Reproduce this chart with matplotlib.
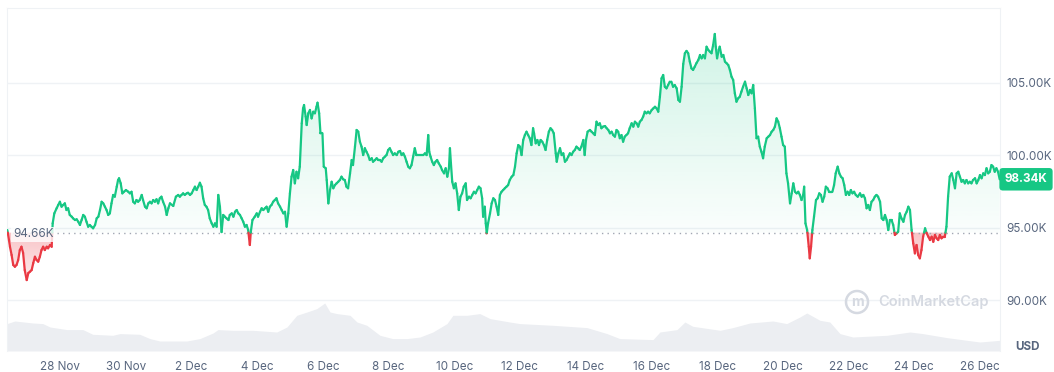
import numpy as np
import matplotlib
matplotlib.use('Agg')
import matplotlib.pyplot as plt
import matplotlib.colors as mcolors
from matplotlib.collections import LineCollection
from matplotlib.patches import Polygon, Ellipse

plt.rcParams['font.family'] = ['Inter', 'DejaVu Sans']

# days since 28 Nov 00:00, price in thousand USD
day = [
    -1.60, -1.55, -1.52, -1.47, -1.42, -1.37, -1.32, -1.27, -1.22, -1.17,
    -1.12, -1.07, -1.01, -0.96, -0.91, -0.86, -0.81, -0.76, -0.71, -0.66,
    -0.61, -0.56, -0.51, -0.46, -0.40, -0.36, -0.30, -0.25, -0.22, -0.17,
    -0.10, -0.05, 0.00, 0.05, 0.10, 0.15, 0.20, 0.25, 0.30, 0.36,
    0.40, 0.46, 0.51, 0.56, 0.61, 0.66, 0.71, 0.76, 0.81, 0.86,
    0.91, 0.96, 1.01, 1.07, 1.12, 1.17, 1.22, 1.27, 1.32, 1.37,
    1.42, 1.47, 1.52, 1.57, 1.62, 1.67, 1.73, 1.77, 1.80, 1.85,
    1.90, 1.95, 2.01, 2.08, 2.13, 2.18, 2.23, 2.28, 2.33, 2.38,
    2.43, 2.49, 2.53, 2.59, 2.64, 2.69, 2.74, 2.79, 2.84, 2.89,
    2.94, 2.99, 3.04, 3.09, 3.14, 3.20, 3.25, 3.30, 3.35, 3.45,
    3.53, 3.60, 3.65, 3.70, 3.75, 3.80, 3.86, 3.90, 3.96, 4.01,
    4.06, 4.11, 4.16, 4.21, 4.26, 4.31, 4.36, 4.41, 4.46, 4.51,
    4.56, 4.62, 4.67, 4.72, 4.77, 4.82, 4.87, 4.92, 4.97, 5.02,
    5.07, 5.13, 5.17, 5.23, 5.28, 5.33, 5.38, 5.43, 5.48, 5.53,
    5.58, 5.63, 5.68, 5.73, 5.78, 5.81, 5.86, 5.93, 5.99, 6.03,
    6.09, 6.14, 6.19, 6.24, 6.29, 6.34, 6.39, 6.44, 6.49, 6.54,
    6.59, 6.64, 6.70, 6.75, 6.80, 6.85, 6.90, 6.95, 7.00, 7.05,
    7.10, 7.15, 7.20, 7.25, 7.30, 7.36, 7.40, 7.43, 7.48, 7.51,
    7.56, 7.61, 7.66, 7.71, 7.76, 7.81, 7.84, 7.89, 7.93, 7.99,
    8.03, 8.09, 8.12, 8.17, 8.22, 8.27, 8.32, 8.37, 8.42, 8.47,
    8.52, 8.57, 8.62, 8.67, 8.72, 8.77, 8.83, 8.88, 8.92, 8.98,
    9.03, 9.08, 9.13, 9.18, 9.23, 9.28, 9.33, 9.38, 9.43, 9.49,
    9.53, 9.59, 9.64, 9.69, 9.74, 9.79, 9.84, 9.89, 9.94, 9.99,
    10.04, 10.09, 10.14, 10.19, 10.25, 10.30, 10.35, 10.40, 10.45, 10.50,
    10.55, 10.60, 10.65, 10.70, 10.75, 10.80, 10.85, 10.90, 10.96, 11.01,
    11.06, 11.11, 11.16, 11.21, 11.24, 11.28, 11.33, 11.38, 11.43, 11.48,
    11.53, 11.59, 11.63, 11.69, 11.74, 11.79, 11.84, 11.87, 11.90, 11.94,
    11.99, 12.04, 12.09, 12.14, 12.19, 12.24, 12.29, 12.35, 12.39, 12.45,
    12.50, 12.55, 12.60, 12.65, 12.70, 12.75, 12.80, 12.85, 12.88, 12.93,
    12.96, 12.99, 13.03, 13.09, 13.14, 13.19, 13.24, 13.29, 13.34, 13.39,
    13.44, 13.49, 13.54, 13.59, 13.64, 13.69, 13.75, 13.80, 13.85, 13.90,
    13.95, 14.00, 14.05, 14.10, 14.15, 14.20, 14.25, 14.30, 14.35, 14.40,
    14.43, 14.48, 14.53, 14.58, 14.63, 14.68, 14.73, 14.78, 14.83, 14.88,
    14.93, 14.98, 15.03, 15.09, 15.12, 15.17, 15.22, 15.27, 15.32, 15.37,
    15.42, 15.47, 15.52, 15.57, 15.62, 15.67, 15.72, 15.77, 15.82, 15.87,
    15.93, 15.97, 16.01, 16.06, 16.13, 16.18, 16.23, 16.28, 16.33, 16.38,
    16.43, 16.48, 16.53, 16.59, 16.64, 16.69, 16.74, 16.79, 16.84, 16.89,
    16.94, 16.99, 17.04, 17.09, 17.14, 17.19, 17.24, 17.29, 17.34, 17.40,
    17.45, 17.50, 17.55, 17.60, 17.65, 17.70, 17.75, 17.80, 17.85, 17.90,
    17.95, 18.01, 18.06, 18.11, 18.16, 18.21, 18.26, 18.31, 18.36, 18.41,
    18.46, 18.51, 18.56, 18.61, 18.66, 18.71, 18.77, 18.82, 18.87, 18.92,
    18.97, 19.02, 19.07, 19.12, 19.17, 19.22, 19.27, 19.32, 19.37, 19.43,
    19.48, 19.53, 19.58, 19.63, 19.68, 19.73, 19.78, 19.83, 19.88, 19.93,
    19.96, 20.00, 20.05, 20.08, 20.14, 20.19, 20.24, 20.29, 20.34, 20.39,
    20.44, 20.49, 20.54, 20.59, 20.64, 20.69, 20.74, 20.79, 20.85, 20.90,
    20.95, 21.00, 21.05, 21.10, 21.15, 21.20, 21.25, 21.30, 21.35, 21.40,
    21.45, 21.51, 21.56, 21.61, 21.66, 21.71, 21.76, 21.81, 21.86, 21.91,
    21.96, 22.01, 22.06, 22.11, 22.16, 22.22, 22.27, 22.32, 22.37, 22.42,
    22.47, 22.52, 22.57, 22.62, 22.65, 22.69, 22.74, 22.79, 22.82, 22.86,
    22.90, 22.95, 23.01, 23.06, 23.11, 23.16, 23.21, 23.26, 23.31, 23.36,
    23.41, 23.46, 23.51, 23.56, 23.61, 23.67, 23.72, 23.77, 23.82, 23.87,
    23.92, 23.97, 24.02, 24.07, 24.12, 24.17, 24.22, 24.28, 24.35, 24.40,
    24.45, 24.50, 24.55, 24.60, 24.65, 24.70, 24.75, 24.80, 24.85, 24.90,
    24.96, 25.01, 25.06, 25.11, 25.16, 25.21, 25.26, 25.31, 25.36, 25.41,
    25.46, 25.51, 25.56, 25.61, 25.67, 25.72, 25.77, 25.82, 25.87, 25.92,
    25.97, 26.02, 26.07, 26.12, 26.17, 26.22, 26.27, 26.33, 26.38, 26.43,
    26.48, 26.53, 26.58, 26.63, 26.68, 26.73, 26.78, 26.83, 26.88, 26.93,
    26.98, 27.03, 27.08, 27.14, 27.19, 27.24, 27.29, 27.34, 27.39, 27.44,
    27.49, 27.54, 27.59, 27.64, 27.69, 27.74, 27.79, 27.85, 27.90, 27.95,
    28.00, 28.05, 28.10, 28.15, 28.20, 28.25, 28.30, 28.35, 28.40, 28.45,
    28.50, 28.55, 28.60,
]
price = [
    94.84, 94.15, 93.69, 93.12, 92.43, 92.31, 92.43, 92.77, 93.46, 93.69,
    93.26, 92.08, 91.39, 91.88, 91.97, 92.08, 92.57, 93.00, 92.77, 92.66,
    93.00, 93.46, 93.69, 93.46, 93.69, 93.58, 93.81, 93.69, 95.30, 95.99,
    96.34, 96.57, 96.79, 96.45, 96.57, 96.68, 96.22, 96.34, 95.88, 95.76,
    95.65, 95.53, 95.58, 95.41, 95.19, 95.53, 95.88, 95.76, 95.41, 95.07,
    95.19, 95.07, 94.96, 95.19, 95.65, 95.76, 96.22, 96.79, 96.68, 96.45,
    96.22, 95.88, 95.99, 96.68, 97.26, 97.14, 97.83, 98.29, 98.41, 98.06,
    97.37, 97.48, 97.60, 97.48, 97.37, 97.48, 96.79, 96.68, 96.91, 96.79,
    96.91, 97.26, 96.91, 96.45, 96.34, 96.68, 96.79, 96.68, 96.91, 96.79,
    96.96, 96.68, 97.03, 97.14, 96.79, 96.45, 95.88, 96.34, 96.68, 96.50,
    97.14, 97.26, 97.14, 97.26, 97.37, 97.26, 97.37, 97.41, 97.26, 97.37,
    97.60, 97.83, 97.60, 97.83, 98.10, 97.83, 97.03, 96.57, 96.45, 96.22,
    95.65, 95.30, 95.07, 95.30, 95.07, 97.26, 96.45, 94.70, 95.88, 95.76,
    95.65, 95.53, 95.88, 95.99, 95.76, 96.10, 96.22, 95.99, 95.88, 95.65,
    95.41, 95.07, 95.19, 94.84, 93.81, 94.72, 95.53, 95.76, 95.99, 95.76,
    96.10, 96.34, 96.22, 96.34, 96.45, 96.10, 96.45, 96.57, 96.79, 96.91,
    97.03, 96.68, 96.45, 96.22, 95.99, 96.10, 95.07, 95.99, 97.37, 98.52,
    98.98, 98.06, 98.86, 98.41, 99.21, 102.20, 103.23, 103.46, 102.66, 102.08,
    102.89, 103.12, 102.54, 103.00, 102.89, 103.34, 103.62, 102.89, 101.51, 101.51,
    99.21, 99.10, 98.29, 96.68, 97.60, 98.17, 97.72, 97.94, 98.06, 98.17,
    98.29, 98.52, 98.34, 98.29, 97.83, 97.72, 98.75, 99.67, 99.32, 100.59,
    101.74, 101.62, 100.93, 100.59, 100.01, 100.48, 100.24, 100.01, 99.67, 99.79,
    99.55, 99.67, 99.79, 99.67, 99.67, 99.55, 99.79, 99.90, 100.01, 100.36,
    100.48, 100.24, 100.01, 100.13, 100.01, 100.24, 100.29, 100.01, 100.13, 99.90,
    99.55, 99.21, 99.10, 99.32, 99.90, 100.48, 100.01, 100.01, 100.01, 100.01,
    100.01, 100.13, 100.01, 101.39, 100.24, 99.90, 99.55, 99.32, 99.55, 99.67,
    99.44, 99.21, 98.98, 98.75, 99.10, 98.52, 99.10, 100.48, 99.44, 98.17,
    97.72, 98.06, 97.37, 96.22, 97.14, 97.37, 97.83, 98.06, 96.91, 97.14,
    97.03, 97.26, 97.48, 97.37, 97.60, 97.83, 97.72, 97.03, 95.76, 96.45,
    95.30, 94.62, 95.30, 95.99, 96.68, 97.03, 96.91, 96.45, 95.88, 97.26,
    97.48, 97.60, 97.72, 97.83, 97.94, 98.29, 98.52, 98.63, 99.21, 100.13,
    100.70, 100.59, 100.01, 101.05, 101.39, 101.62, 101.39, 101.17, 100.70, 101.86,
    101.51, 100.82, 101.05, 100.70, 101.05, 100.93, 100.70, 100.36, 101.05, 101.62,
    101.86, 101.74, 101.51, 100.13, 99.55, 100.13, 100.48, 100.01, 100.13, 99.55,
    99.67, 99.90, 100.13, 100.01, 100.24, 100.36, 100.59, 100.48, 100.36, 100.59,
    101.05, 100.01, 101.05, 101.62, 101.74, 101.62, 101.51, 101.39, 102.31, 102.08,
    102.20, 101.86, 101.97, 102.01, 101.86, 101.74, 101.51, 101.62, 101.39, 101.28,
    101.74, 101.62, 101.17, 101.39, 100.93, 101.28, 101.39, 101.51, 101.86, 102.20,
    101.97, 102.31, 102.20, 101.97, 102.31, 102.43, 102.66, 103.00, 102.89, 103.00,
    102.89, 103.12, 103.23, 103.34, 103.23, 103.00, 104.03, 105.30, 105.53, 104.72,
    104.61, 104.84, 105.07, 105.07, 104.72, 104.84, 104.61, 103.81, 103.69, 104.72,
    106.29, 107.03, 107.19, 107.03, 106.45, 105.99, 105.88, 106.10, 106.34, 106.57,
    106.91, 106.68, 106.91, 106.68, 107.48, 107.26, 107.14, 107.03, 107.60, 108.36,
    107.48, 106.68, 107.26, 107.48, 106.79, 106.91, 106.45, 106.34, 106.22, 105.88,
    105.41, 105.19, 104.27, 103.69, 103.92, 104.03, 104.38, 104.72, 105.07, 104.61,
    104.15, 104.50, 104.27, 104.84, 103.23, 101.17, 101.28, 100.59, 100.24, 99.79,
    100.59, 101.17, 101.28, 101.39, 101.62, 101.74, 101.97, 102.54, 102.31, 101.86,
    101.28, 100.70, 100.59, 98.75, 98.06, 96.68, 97.37, 98.06, 97.48, 97.37,
    97.48, 97.26, 96.91, 97.26, 97.83, 95.30, 94.84, 93.69, 92.89, 93.69,
    94.84, 95.76, 96.91, 97.03, 97.37, 97.26, 96.79, 97.14, 97.83, 97.72,
    97.48, 97.48, 97.48, 97.94, 98.75, 99.21, 98.75, 98.52, 98.41, 97.94,
    97.26, 97.48, 97.26, 97.60, 97.37, 97.48, 97.26, 97.14, 97.37, 97.14,
    97.26, 97.03, 96.34, 96.57, 96.22, 96.79, 96.91, 97.14, 97.26, 97.14,
    96.79, 95.65, 95.53, 95.88, 95.53, 94.84, 95.53, 95.53, 95.19, 94.50,
    94.61, 94.72, 95.99, 95.65, 95.41, 95.88, 96.10, 96.45, 96.22, 94.84,
    93.92, 93.23, 93.81, 93.12, 92.89, 93.46, 94.38, 94.96, 94.61, 94.38,
    94.15, 94.38, 94.03, 94.50, 94.27, 94.15, 94.50, 94.27, 94.38, 94.38,
    95.07, 97.14, 98.52, 98.75, 98.29, 97.72, 98.75, 98.86, 98.52, 98.17,
    98.29, 98.06, 98.29, 98.06, 98.17, 98.06, 98.29, 98.41, 98.06, 98.29,
    98.63, 98.41, 98.75, 98.63, 99.10, 98.75, 98.86, 99.32, 99.21, 98.86,
    99.10, 98.86, 98.34,
]
vol_day = [-1.61, -1.37, -0.82, -0.52, -0.30, 0.21, 0.70, 1.00, 1.61, 1.83,
           2.43, 2.74, 3.04, 3.86, 4.26, 4.66, 4.81, 5.26, 5.87, 6.60,
           6.91, 7.21, 7.52, 7.82, 8.06, 8.22, 8.43, 8.83, 9.04, 9.34,
           9.74, 10.13, 10.56, 10.96, 11.35, 11.78, 11.96, 12.39, 12.78, 13.09,
           13.69, 14.00, 15.00, 16.04, 16.65, 17.04, 18.05, 18.26, 18.78, 19.02,
           19.26, 20.09, 20.48, 21.00, 21.70, 22.12, 22.52, 22.73, 23.13, 23.43,
           23.74, 24.13, 25.17, 25.87, 26.26, 26.99, 27.60, 28.00, 28.61]
# 24h volume, billion USD
volume = [68.5, 75, 70, 68.5, 60, 53.5, 53.5, 41.75, 39.25, 43.5,
          41.75, 31, 25, 25, 31, 45, 53.5, 51.75, 51.75, 47.5,
          60, 89.25, 97.5, 106, 120, 97.5, 93.5, 89.25, 72.5, 64.25,
          39.25, 31, 31, 35, 47.5, 68.5, 89.25, 89.25, 93.5, 81,
          72.5, 68.5, 64.25, 58.5, 43.5, 31, 28.5, 47.5, 53.5, 72.5,
          61.75, 51.75, 58.5, 70, 75, 68.5, 85, 95, 76.75, 72.5,
          43.5, 35, 39.25, 47.5, 43.5, 33.5, 26.75, 22.5, 26.75]

baseline = 94.66
last_price = 98.34
tick_days = list(range(0, 29, 2))
tick_labels = ['28 Nov', '30 Nov', '2 Dec', '4 Dec', '6 Dec', '8 Dec', '10 Dec', '12 Dec',
               '14 Dec', '16 Dec', '18 Dec', '20 Dec', '22 Dec', '24 Dec', '26 Dec']
price_ticks = [90, 95, 100, 105]

GREEN = '#16c784'
RED = '#ea3943'
GREY = '#58667e'
GRID = '#eff2f5'
MARK = '#d5d9e1'
XMIN, XMAX = -1.61, 28.61
YMIN, YMAX = 86.5, 110.15

fig = plt.figure(figsize=(10.54, 3.72), dpi=100)
pos = [7 / 1054, 21 / 372, 993 / 1054, 343 / 372]
vax = fig.add_axes(pos)
ax = fig.add_axes(pos)
ax.patch.set_visible(False)

# volume in the background
vax.fill_between(vol_day, volume, 0, color='#eceef2', lw=0)
vax.set_xlim(XMIN, XMAX)
vax.set_ylim(0, 857.5)
vax.axis('off')

# split the line where it crosses the baseline
t = np.array(day)
p = np.array(price)
xs, ys = [t[0]], [p[0]]
for i in range(1, len(t)):
    a, b = p[i - 1] - baseline, p[i] - baseline
    if a * b < 0:
        f = a / (a - b)
        xs.append(t[i - 1] + f * (t[i] - t[i - 1]))
        ys.append(baseline)
    xs.append(t[i])
    ys.append(p[i])
xs, ys = np.array(xs), np.array(ys)


def gradient(yclip, color, ylo, yhi, a_lo, a_hi):
    z = np.zeros((256, 1, 4))
    z[:, :, :3] = mcolors.to_rgb(color)
    z[:, 0, 3] = np.linspace(a_lo, a_hi, 256)
    im = ax.imshow(z, aspect='auto', origin='lower', extent=(XMIN, XMAX, ylo, yhi), zorder=1)
    verts = np.column_stack([np.r_[xs[0], xs, xs[-1]], np.r_[baseline, yclip, baseline]])
    poly = Polygon(verts, closed=True, fc='none', ec='none')
    ax.add_patch(poly)
    im.set_clip_path(poly)


gradient(np.maximum(ys, baseline), GREEN, baseline, 108.5, 0.02, 0.2)
gradient(np.minimum(ys, baseline), RED, 91.0, baseline, 0.08, 0.3)

segs = np.stack([np.column_stack([xs[:-1], ys[:-1]]), np.column_stack([xs[1:], ys[1:]])], axis=1)
mid = (ys[:-1] + ys[1:]) / 2
cols = [GREEN if m >= baseline else RED for m in mid]
ax.add_collection(LineCollection(segs, colors=cols, linewidths=1.6, zorder=3, capstyle='round', joinstyle='round'))

ax.axhline(baseline, color='#a1a7b3', lw=1, ls=(0, (1, 3)), zorder=2)
ax.text(-1.43, baseline - 0.12, '%.2fK' % baseline, color=GREY, fontsize=8.4, va='center', ha='left', zorder=4,
        bbox=dict(boxstyle='square,pad=0.15', fc='white', ec='none', alpha=0.8))

ax.set_xlim(XMIN, XMAX)
ax.set_ylim(YMIN, YMAX)
ax.set_yticks(price_ticks)
ax.set_yticklabels(['%.2fK' % v for v in price_ticks])
ax.yaxis.tick_right()
ax.grid(axis='y', color=GRID, lw=1)
ax.set_axisbelow(True)
ax.set_xticks(tick_days)
ax.set_xticklabels(tick_labels)
ax.tick_params(axis='y', length=0, pad=4.5, labelcolor=GREY, labelsize=8.4)
ax.tick_params(axis='x', length=0, pad=7, labelcolor=GREY, labelsize=8.4)
for s in ax.spines.values():
    s.set_color(GRID)
ax.spines['bottom'].set_visible(False)

# current price tag
ax.text(1 + 26 / 993, last_price, '%.2fK' % last_price, transform=ax.get_yaxis_transform(), color='white',
        fontsize=8.4, fontweight='bold', ha='center', va='center', zorder=5,
        bbox=dict(boxstyle='round,pad=0.45,rounding_size=0.3', fc=GREEN, ec='none'))
fig.text(1028 / 1054, 1 - 347 / 372, 'USD', color=GREY, fontsize=8.4, fontweight='bold', ha='center', va='center')

# watermark
fig.add_artist(Ellipse((857 / 1054, 1 - 302 / 372), 22 / 1054, 22 / 372, transform=fig.transFigure,
                       fc='none', ec=MARK, lw=1.8))
fig.text(857 / 1054, 1 - 302.5 / 372, 'm', color=MARK, fontsize=10, fontweight='bold', ha='center', va='center')
fig.text(878 / 1054, 1 - 302 / 372, 'CoinMarketCap', color=MARK, fontsize=10.5, fontweight='semibold',
         ha='left', va='center')

fig.savefig('out.png', dpi=100, facecolor='white')
